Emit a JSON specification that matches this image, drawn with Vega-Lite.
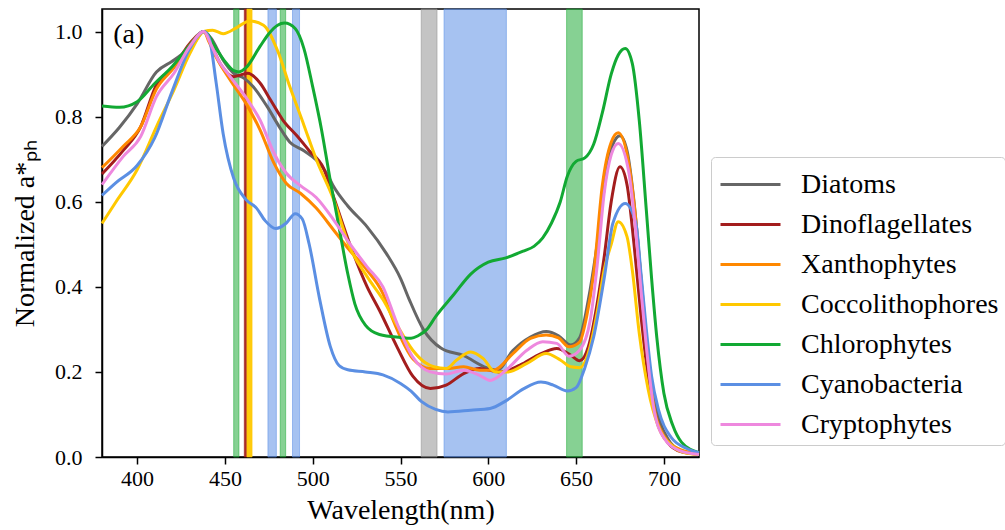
{
  "$schema": "https://vega.github.io/schema/vega-lite/v6.json",
  "width": 597,
  "height": 448,
  "autosize": {"type": "none"},
  "padding": {"left": 102, "top": 9, "right": 306, "bottom": 73},
  "background": "white",
  "config": {
    "font": "Liberation Serif",
    "view": {"stroke": "#000000", "strokeWidth": 1.5},
    "axis": {
      "labelFont": "Liberation Serif",
      "titleFont": "Liberation Serif",
      "labelFontSize": 22,
      "titleFontSize": 28,
      "titleFontWeight": "normal",
      "labelColor": "#000000",
      "titleColor": "#000000",
      "tickColor": "#000000",
      "domainColor": "#000000",
      "tickSize": 7,
      "tickWidth": 1.5,
      "domainWidth": 1.5,
      "grid": false
    },
    "legend": {
      "labelFont": "Liberation Serif",
      "labelFontSize": 28,
      "labelColor": "#000000",
      "labelLimit": 400
    }
  },
  "resolve": {"scale": {"color": "independent", "stroke": "independent"}, "legend": {"color": "independent"}},
  "datasets": {
    "bandsLight": [
      {"group": "Chlorophytes", "start": 455, "end": 458},
      {"group": "Cyanobacteria", "start": 474.5, "end": 479.3},
      {"group": "Chlorophytes", "start": 481.5, "end": 484.6},
      {"group": "Cyanobacteria", "start": 488.5, "end": 492.5},
      {"group": "Diatoms", "start": 561.8, "end": 570.8},
      {"group": "Cyanobacteria", "start": 574.8, "end": 610.3},
      {"group": "Chlorophytes", "start": 644.6, "end": 653.5}
    ],
    "bandsDark": [
      {"group": "Dinoflagellates", "start": 461, "end": 462.5},
      {"group": "Coccolithophores", "start": 462.5, "end": 465.5}
    ],
    "spectra": [
      {"group":"Diatoms","wl":380,"val":0.73},{"group":"Diatoms","wl":390,"val":0.775},{"group":"Diatoms","wl":400,"val":0.83},{"group":"Diatoms","wl":411,"val":0.905},{"group":"Diatoms","wl":420,"val":0.93},{"group":"Diatoms","wl":425,"val":0.945},{"group":"Diatoms","wl":432,"val":0.97},{"group":"Diatoms","wl":438,"val":1.0},{"group":"Diatoms","wl":442,"val":0.985},{"group":"Diatoms","wl":449,"val":0.933},{"group":"Diatoms","wl":455,"val":0.902},{"group":"Diatoms","wl":461,"val":0.89},{"group":"Diatoms","wl":466,"val":0.871},{"group":"Diatoms","wl":474,"val":0.824},{"group":"Diatoms","wl":481,"val":0.776},{"group":"Diatoms","wl":487,"val":0.74},{"group":"Diatoms","wl":495,"val":0.72},{"group":"Diatoms","wl":502,"val":0.698},{"group":"Diatoms","wl":508,"val":0.667},{"group":"Diatoms","wl":512,"val":0.635},{"group":"Diatoms","wl":520,"val":0.59},{"group":"Diatoms","wl":531,"val":0.541},{"group":"Diatoms","wl":542,"val":0.478},{"group":"Diatoms","wl":550,"val":0.42},{"group":"Diatoms","wl":555,"val":0.37},{"group":"Diatoms","wl":563,"val":0.3},{"group":"Diatoms","wl":573,"val":0.256},{"group":"Diatoms","wl":586,"val":0.238},{"group":"Diatoms","wl":599,"val":0.21},{"group":"Diatoms","wl":605,"val":0.204},{"group":"Diatoms","wl":614,"val":0.25},{"group":"Diatoms","wl":624,"val":0.282},{"group":"Diatoms","wl":633,"val":0.295},{"group":"Diatoms","wl":640,"val":0.285},{"group":"Diatoms","wl":647,"val":0.263},{"group":"Diatoms","wl":652,"val":0.28},{"group":"Diatoms","wl":657,"val":0.37},{"group":"Diatoms","wl":662,"val":0.5},{"group":"Diatoms","wl":667,"val":0.66},{"group":"Diatoms","wl":671,"val":0.735},{"group":"Diatoms","wl":675,"val":0.755},{"group":"Diatoms","wl":679,"val":0.72},{"group":"Diatoms","wl":683,"val":0.6},{"group":"Diatoms","wl":687,"val":0.42},{"group":"Diatoms","wl":691,"val":0.24},{"group":"Diatoms","wl":696,"val":0.11},{"group":"Diatoms","wl":702,"val":0.045},{"group":"Diatoms","wl":710,"val":0.015},{"group":"Diatoms","wl":720,"val":0.008},

      {"group":"Dinoflagellates","wl":380,"val":0.665},{"group":"Dinoflagellates","wl":392,"val":0.72},{"group":"Dinoflagellates","wl":402,"val":0.776},{"group":"Dinoflagellates","wl":411,"val":0.875},{"group":"Dinoflagellates","wl":421,"val":0.918},{"group":"Dinoflagellates","wl":430,"val":0.972},{"group":"Dinoflagellates","wl":438,"val":1.0},{"group":"Dinoflagellates","wl":442,"val":0.97},{"group":"Dinoflagellates","wl":448,"val":0.92},{"group":"Dinoflagellates","wl":455,"val":0.894},{"group":"Dinoflagellates","wl":463,"val":0.902},{"group":"Dinoflagellates","wl":470,"val":0.879},{"group":"Dinoflagellates","wl":476,"val":0.839},{"group":"Dinoflagellates","wl":483,"val":0.792},{"group":"Dinoflagellates","wl":491,"val":0.755},{"group":"Dinoflagellates","wl":498,"val":0.72},{"group":"Dinoflagellates","wl":506,"val":0.68},{"group":"Dinoflagellates","wl":512,"val":0.61},{"group":"Dinoflagellates","wl":521,"val":0.502},{"group":"Dinoflagellates","wl":531,"val":0.4},{"group":"Dinoflagellates","wl":538,"val":0.345},{"group":"Dinoflagellates","wl":548,"val":0.259},{"group":"Dinoflagellates","wl":557,"val":0.19},{"group":"Dinoflagellates","wl":567,"val":0.161},{"group":"Dinoflagellates","wl":576,"val":0.169},{"group":"Dinoflagellates","wl":586,"val":0.196},{"group":"Dinoflagellates","wl":595,"val":0.208},{"group":"Dinoflagellates","wl":607,"val":0.2},{"group":"Dinoflagellates","wl":618,"val":0.216},{"group":"Dinoflagellates","wl":630,"val":0.243},{"group":"Dinoflagellates","wl":639,"val":0.255},{"group":"Dinoflagellates","wl":647,"val":0.239},{"group":"Dinoflagellates","wl":652,"val":0.226},{"group":"Dinoflagellates","wl":657,"val":0.259},{"group":"Dinoflagellates","wl":662,"val":0.36},{"group":"Dinoflagellates","wl":666,"val":0.47},{"group":"Dinoflagellates","wl":670,"val":0.6},{"group":"Dinoflagellates","wl":675,"val":0.682},{"group":"Dinoflagellates","wl":679,"val":0.64},{"group":"Dinoflagellates","wl":683,"val":0.5},{"group":"Dinoflagellates","wl":687,"val":0.33},{"group":"Dinoflagellates","wl":691,"val":0.19},{"group":"Dinoflagellates","wl":696,"val":0.085},{"group":"Dinoflagellates","wl":702,"val":0.035},{"group":"Dinoflagellates","wl":710,"val":0.012},{"group":"Dinoflagellates","wl":720,"val":0.006},

      {"group":"Xanthophytes","wl":380,"val":0.68},{"group":"Xanthophytes","wl":392,"val":0.73},{"group":"Xanthophytes","wl":402,"val":0.776},{"group":"Xanthophytes","wl":411,"val":0.865},{"group":"Xanthophytes","wl":421,"val":0.915},{"group":"Xanthophytes","wl":430,"val":0.968},{"group":"Xanthophytes","wl":438,"val":1.0},{"group":"Xanthophytes","wl":441,"val":0.975},{"group":"Xanthophytes","wl":445,"val":0.94},{"group":"Xanthophytes","wl":453,"val":0.886},{"group":"Xanthophytes","wl":463,"val":0.824},{"group":"Xanthophytes","wl":470,"val":0.769},{"group":"Xanthophytes","wl":478,"val":0.69},{"group":"Xanthophytes","wl":485,"val":0.643},{"group":"Xanthophytes","wl":493,"val":0.62},{"group":"Xanthophytes","wl":502,"val":0.585},{"group":"Xanthophytes","wl":512,"val":0.533},{"group":"Xanthophytes","wl":521,"val":0.486},{"group":"Xanthophytes","wl":531,"val":0.439},{"group":"Xanthophytes","wl":540,"val":0.384},{"group":"Xanthophytes","wl":545,"val":0.33},{"group":"Xanthophytes","wl":550,"val":0.282},{"group":"Xanthophytes","wl":557,"val":0.231},{"group":"Xanthophytes","wl":567,"val":0.208},{"group":"Xanthophytes","wl":576,"val":0.208},{"group":"Xanthophytes","wl":586,"val":0.212},{"group":"Xanthophytes","wl":595,"val":0.204},{"group":"Xanthophytes","wl":603,"val":0.204},{"group":"Xanthophytes","wl":614,"val":0.243},{"group":"Xanthophytes","wl":624,"val":0.279},{"group":"Xanthophytes","wl":633,"val":0.287},{"group":"Xanthophytes","wl":640,"val":0.28},{"group":"Xanthophytes","wl":646,"val":0.259},{"group":"Xanthophytes","wl":652,"val":0.27},{"group":"Xanthophytes","wl":656,"val":0.33},{"group":"Xanthophytes","wl":660,"val":0.43},{"group":"Xanthophytes","wl":665,"val":0.64},{"group":"Xanthophytes","wl":670,"val":0.74},{"group":"Xanthophytes","wl":674,"val":0.762},{"group":"Xanthophytes","wl":680,"val":0.69},{"group":"Xanthophytes","wl":684,"val":0.557},{"group":"Xanthophytes","wl":687,"val":0.416},{"group":"Xanthophytes","wl":690,"val":0.27},{"group":"Xanthophytes","wl":694,"val":0.126},{"group":"Xanthophytes","wl":700,"val":0.05},{"group":"Xanthophytes","wl":709,"val":0.018},{"group":"Xanthophytes","wl":720,"val":0.008},

      {"group":"Coccolithophores","wl":380,"val":0.549},{"group":"Coccolithophores","wl":388,"val":0.6},{"group":"Coccolithophores","wl":400,"val":0.675},{"group":"Coccolithophores","wl":411,"val":0.776},{"group":"Coccolithophores","wl":421,"val":0.863},{"group":"Coccolithophores","wl":430,"val":0.948},{"group":"Coccolithophores","wl":438,"val":1.0},{"group":"Coccolithophores","wl":443,"val":1.003},{"group":"Coccolithophores","wl":449,"val":0.995},{"group":"Coccolithophores","wl":457,"val":1.01},{"group":"Coccolithophores","wl":464,"val":1.025},{"group":"Coccolithophores","wl":472,"val":1.015},{"group":"Coccolithophores","wl":480,"val":0.955},{"group":"Coccolithophores","wl":487,"val":0.87},{"group":"Coccolithophores","wl":495,"val":0.78},{"group":"Coccolithophores","wl":502,"val":0.7},{"group":"Coccolithophores","wl":512,"val":0.604},{"group":"Coccolithophores","wl":521,"val":0.494},{"group":"Coccolithophores","wl":531,"val":0.424},{"group":"Coccolithophores","wl":540,"val":0.37},{"group":"Coccolithophores","wl":548,"val":0.31},{"group":"Coccolithophores","wl":557,"val":0.251},{"group":"Coccolithophores","wl":564,"val":0.222},{"group":"Coccolithophores","wl":569,"val":0.212},{"group":"Coccolithophores","wl":576,"val":0.208},{"group":"Coccolithophores","wl":582,"val":0.228},{"group":"Coccolithophores","wl":590,"val":0.247},{"group":"Coccolithophores","wl":597,"val":0.232},{"group":"Coccolithophores","wl":604,"val":0.2},{"group":"Coccolithophores","wl":611,"val":0.2},{"group":"Coccolithophores","wl":622,"val":0.22},{"group":"Coccolithophores","wl":633,"val":0.243},{"group":"Coccolithophores","wl":641,"val":0.228},{"group":"Coccolithophores","wl":647,"val":0.212},{"group":"Coccolithophores","wl":652,"val":0.21},{"group":"Coccolithophores","wl":658,"val":0.26},{"group":"Coccolithophores","wl":662,"val":0.34},{"group":"Coccolithophores","wl":666,"val":0.44},{"group":"Coccolithophores","wl":670,"val":0.5},{"group":"Coccolithophores","wl":674,"val":0.553},{"group":"Coccolithophores","wl":679,"val":0.518},{"group":"Coccolithophores","wl":682,"val":0.44},{"group":"Coccolithophores","wl":686,"val":0.29},{"group":"Coccolithophores","wl":691,"val":0.16},{"group":"Coccolithophores","wl":697,"val":0.07},{"group":"Coccolithophores","wl":705,"val":0.025},{"group":"Coccolithophores","wl":712,"val":0.01},{"group":"Coccolithophores","wl":720,"val":0.006},

      {"group":"Chlorophytes","wl":380,"val":0.825},{"group":"Chlorophytes","wl":390,"val":0.822},{"group":"Chlorophytes","wl":400,"val":0.835},{"group":"Chlorophytes","wl":410,"val":0.878},{"group":"Chlorophytes","wl":420,"val":0.918},{"group":"Chlorophytes","wl":430,"val":0.968},{"group":"Chlorophytes","wl":438,"val":1.0},{"group":"Chlorophytes","wl":445,"val":0.96},{"group":"Chlorophytes","wl":450,"val":0.93},{"group":"Chlorophytes","wl":455,"val":0.908},{"group":"Chlorophytes","wl":458,"val":0.905},{"group":"Chlorophytes","wl":462,"val":0.915},{"group":"Chlorophytes","wl":470,"val":0.965},{"group":"Chlorophytes","wl":475,"val":0.995},{"group":"Chlorophytes","wl":480,"val":1.015},{"group":"Chlorophytes","wl":484,"val":1.02},{"group":"Chlorophytes","wl":490,"val":1.007},{"group":"Chlorophytes","wl":495,"val":0.96},{"group":"Chlorophytes","wl":500,"val":0.87},{"group":"Chlorophytes","wl":505,"val":0.77},{"group":"Chlorophytes","wl":510,"val":0.65},{"group":"Chlorophytes","wl":515,"val":0.54},{"group":"Chlorophytes","wl":520,"val":0.43},{"group":"Chlorophytes","wl":524,"val":0.36},{"group":"Chlorophytes","wl":530,"val":0.31},{"group":"Chlorophytes","wl":538,"val":0.288},{"group":"Chlorophytes","wl":550,"val":0.281},{"group":"Chlorophytes","wl":556,"val":0.279},{"group":"Chlorophytes","wl":560,"val":0.285},{"group":"Chlorophytes","wl":565,"val":0.3},{"group":"Chlorophytes","wl":570,"val":0.33},{"group":"Chlorophytes","wl":580,"val":0.38},{"group":"Chlorophytes","wl":590,"val":0.43},{"group":"Chlorophytes","wl":600,"val":0.458},{"group":"Chlorophytes","wl":610,"val":0.468},{"group":"Chlorophytes","wl":620,"val":0.484},{"group":"Chlorophytes","wl":626,"val":0.495},{"group":"Chlorophytes","wl":631,"val":0.515},{"group":"Chlorophytes","wl":636,"val":0.55},{"group":"Chlorophytes","wl":641,"val":0.6},{"group":"Chlorophytes","wl":645,"val":0.66},{"group":"Chlorophytes","wl":650,"val":0.695},{"group":"Chlorophytes","wl":655,"val":0.703},{"group":"Chlorophytes","wl":660,"val":0.735},{"group":"Chlorophytes","wl":665,"val":0.81},{"group":"Chlorophytes","wl":670,"val":0.9},{"group":"Chlorophytes","wl":674,"val":0.945},{"group":"Chlorophytes","wl":678,"val":0.96},{"group":"Chlorophytes","wl":682,"val":0.925},{"group":"Chlorophytes","wl":686,"val":0.79},{"group":"Chlorophytes","wl":690,"val":0.58},{"group":"Chlorophytes","wl":693,"val":0.42},{"group":"Chlorophytes","wl":696,"val":0.28},{"group":"Chlorophytes","wl":700,"val":0.15},{"group":"Chlorophytes","wl":705,"val":0.075},{"group":"Chlorophytes","wl":710,"val":0.035},{"group":"Chlorophytes","wl":720,"val":0.01},

      {"group":"Cyanobacteria","wl":380,"val":0.615},{"group":"Cyanobacteria","wl":388,"val":0.645},{"group":"Cyanobacteria","wl":400,"val":0.685},{"group":"Cyanobacteria","wl":410,"val":0.75},{"group":"Cyanobacteria","wl":420,"val":0.86},{"group":"Cyanobacteria","wl":430,"val":0.96},{"group":"Cyanobacteria","wl":438,"val":1.0},{"group":"Cyanobacteria","wl":441,"val":0.985},{"group":"Cyanobacteria","wl":445,"val":0.88},{"group":"Cyanobacteria","wl":449,"val":0.76},{"group":"Cyanobacteria","wl":455,"val":0.655},{"group":"Cyanobacteria","wl":462,"val":0.605},{"group":"Cyanobacteria","wl":468,"val":0.585},{"group":"Cyanobacteria","wl":473,"val":0.555},{"group":"Cyanobacteria","wl":479,"val":0.537},{"group":"Cyanobacteria","wl":485,"val":0.55},{"group":"Cyanobacteria","wl":490,"val":0.572},{"group":"Cyanobacteria","wl":494,"val":0.56},{"group":"Cyanobacteria","wl":498,"val":0.5},{"group":"Cyanobacteria","wl":504,"val":0.37},{"group":"Cyanobacteria","wl":510,"val":0.26},{"group":"Cyanobacteria","wl":515,"val":0.215},{"group":"Cyanobacteria","wl":520,"val":0.205},{"group":"Cyanobacteria","wl":530,"val":0.2},{"group":"Cyanobacteria","wl":540,"val":0.193},{"group":"Cyanobacteria","wl":550,"val":0.173},{"group":"Cyanobacteria","wl":556,"val":0.155},{"group":"Cyanobacteria","wl":562,"val":0.13},{"group":"Cyanobacteria","wl":570,"val":0.112},{"group":"Cyanobacteria","wl":577,"val":0.106},{"group":"Cyanobacteria","wl":590,"val":0.11},{"group":"Cyanobacteria","wl":601,"val":0.114},{"group":"Cyanobacteria","wl":610,"val":0.132},{"group":"Cyanobacteria","wl":620,"val":0.16},{"group":"Cyanobacteria","wl":630,"val":0.176},{"group":"Cyanobacteria","wl":637,"val":0.169},{"group":"Cyanobacteria","wl":645,"val":0.155},{"group":"Cyanobacteria","wl":650,"val":0.163},{"group":"Cyanobacteria","wl":655,"val":0.21},{"group":"Cyanobacteria","wl":660,"val":0.282},{"group":"Cyanobacteria","wl":666,"val":0.42},{"group":"Cyanobacteria","wl":671,"val":0.55},{"group":"Cyanobacteria","wl":678,"val":0.596},{"group":"Cyanobacteria","wl":684,"val":0.55},{"group":"Cyanobacteria","wl":687,"val":0.43},{"group":"Cyanobacteria","wl":690,"val":0.3},{"group":"Cyanobacteria","wl":693,"val":0.19},{"group":"Cyanobacteria","wl":697,"val":0.11},{"group":"Cyanobacteria","wl":704,"val":0.047},{"group":"Cyanobacteria","wl":713,"val":0.02},{"group":"Cyanobacteria","wl":720,"val":0.01},

      {"group":"Cryptophytes","wl":380,"val":0.64},{"group":"Cryptophytes","wl":392,"val":0.706},{"group":"Cryptophytes","wl":402,"val":0.753},{"group":"Cryptophytes","wl":411,"val":0.847},{"group":"Cryptophytes","wl":421,"val":0.902},{"group":"Cryptophytes","wl":430,"val":0.965},{"group":"Cryptophytes","wl":438,"val":1.0},{"group":"Cryptophytes","wl":442,"val":0.97},{"group":"Cryptophytes","wl":446,"val":0.935},{"group":"Cryptophytes","wl":453,"val":0.894},{"group":"Cryptophytes","wl":463,"val":0.839},{"group":"Cryptophytes","wl":470,"val":0.792},{"group":"Cryptophytes","wl":478,"val":0.714},{"group":"Cryptophytes","wl":485,"val":0.667},{"group":"Cryptophytes","wl":493,"val":0.638},{"group":"Cryptophytes","wl":502,"val":0.61},{"group":"Cryptophytes","wl":512,"val":0.557},{"group":"Cryptophytes","wl":521,"val":0.502},{"group":"Cryptophytes","wl":531,"val":0.447},{"group":"Cryptophytes","wl":540,"val":0.4},{"group":"Cryptophytes","wl":548,"val":0.314},{"group":"Cryptophytes","wl":557,"val":0.235},{"group":"Cryptophytes","wl":567,"val":0.2},{"group":"Cryptophytes","wl":576,"val":0.195},{"group":"Cryptophytes","wl":586,"val":0.204},{"group":"Cryptophytes","wl":595,"val":0.192},{"group":"Cryptophytes","wl":601,"val":0.18},{"group":"Cryptophytes","wl":610,"val":0.204},{"group":"Cryptophytes","wl":622,"val":0.251},{"group":"Cryptophytes","wl":631,"val":0.271},{"group":"Cryptophytes","wl":639,"val":0.267},{"group":"Cryptophytes","wl":646,"val":0.237},{"group":"Cryptophytes","wl":652,"val":0.251},{"group":"Cryptophytes","wl":658,"val":0.32},{"group":"Cryptophytes","wl":662,"val":0.45},{"group":"Cryptophytes","wl":666,"val":0.62},{"group":"Cryptophytes","wl":670,"val":0.71},{"group":"Cryptophytes","wl":674,"val":0.737},{"group":"Cryptophytes","wl":680,"val":0.67},{"group":"Cryptophytes","wl":684,"val":0.53},{"group":"Cryptophytes","wl":687,"val":0.39},{"group":"Cryptophytes","wl":690,"val":0.26},{"group":"Cryptophytes","wl":694,"val":0.12},{"group":"Cryptophytes","wl":700,"val":0.045},{"group":"Cryptophytes","wl":709,"val":0.015},{"group":"Cryptophytes","wl":720,"val":0.006}
    ]
  },
  "layer": [
    {
      "data": {"name": "bandsLight"},
      "mark": {"type": "rect", "fillOpacity": 0.55, "strokeOpacity": 0.55, "strokeWidth": 1},
      "encoding": {
        "x": {"field": "start", "type": "quantitative", "scale": {"domain": [380, 720], "nice": false, "zero": false}},
        "x2": {"field": "end"},
        "color": {"field": "group", "type": "nominal", "legend": null,
          "scale": {"domain": ["Diatoms","Chlorophytes","Cyanobacteria"], "range": ["#939393","#22ac3a","#5d8fe6"]}},
        "stroke": {"field": "group", "type": "nominal", "legend": null,
          "scale": {"domain": ["Diatoms","Chlorophytes","Cyanobacteria"], "range": ["#939393","#22ac3a","#5d8fe6"]}}
      }
    },
    {
      "data": {"name": "bandsDark"},
      "mark": {"type": "rect", "fillOpacity": 0.95, "strokeOpacity": 0.95, "strokeWidth": 0.5},
      "encoding": {
        "x": {"field": "start", "type": "quantitative", "scale": {"domain": [380, 720], "nice": false, "zero": false}},
        "x2": {"field": "end"},
        "color": {"field": "group", "type": "nominal", "legend": null,
          "scale": {"domain": ["Dinoflagellates","Coccolithophores"], "range": ["#a31d1d","#ffc800"]}},
        "stroke": {"field": "group", "type": "nominal", "legend": null,
          "scale": {"domain": ["Dinoflagellates","Coccolithophores"], "range": ["#a31d1d","#ffc800"]}}
      }
    },
    {
      "data": {"name": "spectra"},
      "mark": {"type": "line", "interpolate": "monotone", "strokeWidth": 3},
      "encoding": {
        "x": {"field": "wl", "type": "quantitative",
          "scale": {"domain": [380, 720], "nice": false, "zero": false},
          "axis": {"title": "Wavelength(nm)", "values": [400, 450, 500, 550, 600, 650, 700], "labelPadding": 4, "titlePadding": 7}},
        "y": {"field": "val", "type": "quantitative",
          "scale": {"domain": [0, 1.053], "nice": false, "zero": true},
          "axis": {"title": "Normalized a*ₚₕ", "values": [0, 0.2, 0.4, 0.6, 0.8, 1.0], "format": ".1f", "labelPadding": 13, "titlePadding": 15}},
        "color": {"field": "group", "type": "nominal",
          "scale": {"domain": ["Diatoms","Dinoflagellates","Xanthophytes","Coccolithophores","Chlorophytes","Cyanobacteria","Cryptophytes"],
                    "range": ["#666666","#a31d1d","#ff8800","#ffc800","#12a933","#5b8fe3","#ee88de"]},
          "legend": {"title": null, "orient": "none", "legendX": 609, "legendY": 148,
            "symbolType": "M-1.5,0H1.5", "symbolSize": 1600, "symbolStrokeWidth": 3,
            "symbolOffset": 12, "labelOffset": 29, "rowPadding": 4, "padding": 6,
            "strokeColor": "#cccccc", "fillColor": "#ffffff", "cornerRadius": 4}}
      }
    },
    {
      "data": {"values": [{}]},
      "mark": {"type": "text", "text": "(a)", "font": "Liberation Serif", "fontSize": 28, "align": "left", "baseline": "alphabetic", "color": "#000000"},
      "encoding": {
        "x": {"datum": 386.4, "type": "quantitative"},
        "y": {"datum": 0.973, "type": "quantitative"}
      }
    }
  ]
}
